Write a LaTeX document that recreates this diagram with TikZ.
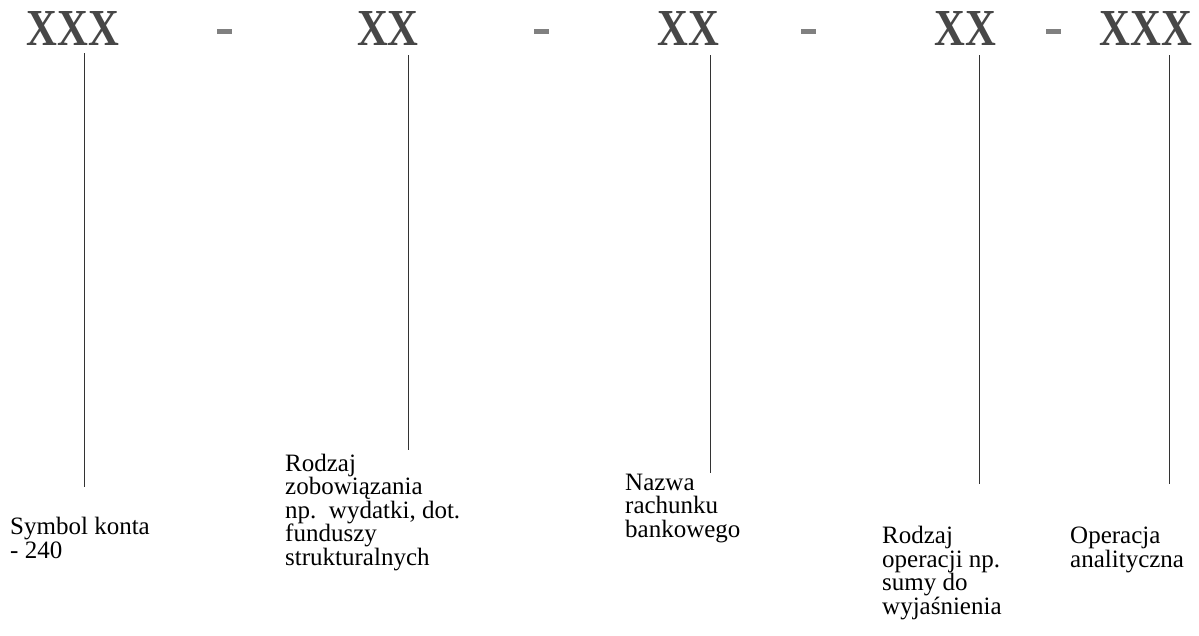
\documentclass[tikz,border=0pt]{standalone}
\usepackage{fontspec}
\setmainfont{Liberation Serif}
\newcommand{\tallcode}[1]{\scalebox{0.97}[1.18]{#1}}
\begin{document}
\begin{tikzpicture}[x=1pt,y=-1pt,
  code/.style={font=\fontsize{44}{44}\selectfont\bfseries, text=black!72, inner sep=0pt, anchor=base},
  sep/.style={fill=black!50, draw=none, minimum width=15pt, minimum height=5pt, inner sep=0pt},
  lab/.style={font=\fontsize{25}{23.5}\selectfont, align=left, anchor=base west, inner sep=0pt},
  link/.style={draw=black!80, line width=0.9pt}]
\useasboundingbox (0,0) rectangle (1199,635);
% codes
\node[code] (c1) at (73,45) {\tallcode{XXX}};
\node[code] (c2) at (388,45) {\tallcode{XX}};
\node[code] (c3) at (688,45) {\tallcode{XX}};
\node[code] (c4) at (965,45) {\tallcode{XX}};
\node[code] (c5) at (1146,45) {\tallcode{XXX}};
% separators
\node[sep] (d1) at (224,31) {};
\node[sep] (d2) at (541,31) {};
\node[sep] (d3) at (808,31) {};
\node[sep] (d4) at (1053,31) {};
% labels (anchor = baseline of the last line)
\node[lab] (l1) at (10,558) {Symbol konta\\- 240};
\node[lab] (l2) at (285,565) {Rodzaj\\zobowiązania\\np.\ \ wydatki, dot.\\funduszy\\strukturalnych};
\node[lab] (l3) at (625,537) {Nazwa\\rachunku\\bankowego};
\node[lab] (l4) at (882,614) {Rodzaj\\operacji np.\\sumy do\\wyjaśnienia};
\node[lab] (l5) at (1070,567) {Operacja\\analityczna};
% connector ends
\coordinate (t1) at (84,53);   \coordinate (b1) at (84,487);
\coordinate (t2) at (408,55);  \coordinate (b2) at (408,450);
\coordinate (t3) at (710,55);  \coordinate (b3) at (710,473);
\coordinate (t4) at (979,55);  \coordinate (b4) at (979,484);
\coordinate (t5) at (1169,55); \coordinate (b5) at (1169,484);
\draw[link] (t1) -- (b1);
\draw[link] (t2) -- (b2);
\draw[link] (t3) -- (b3);
\draw[link] (t4) -- (b4);
\draw[link] (t5) -- (b5);
\end{tikzpicture}
\end{document}
